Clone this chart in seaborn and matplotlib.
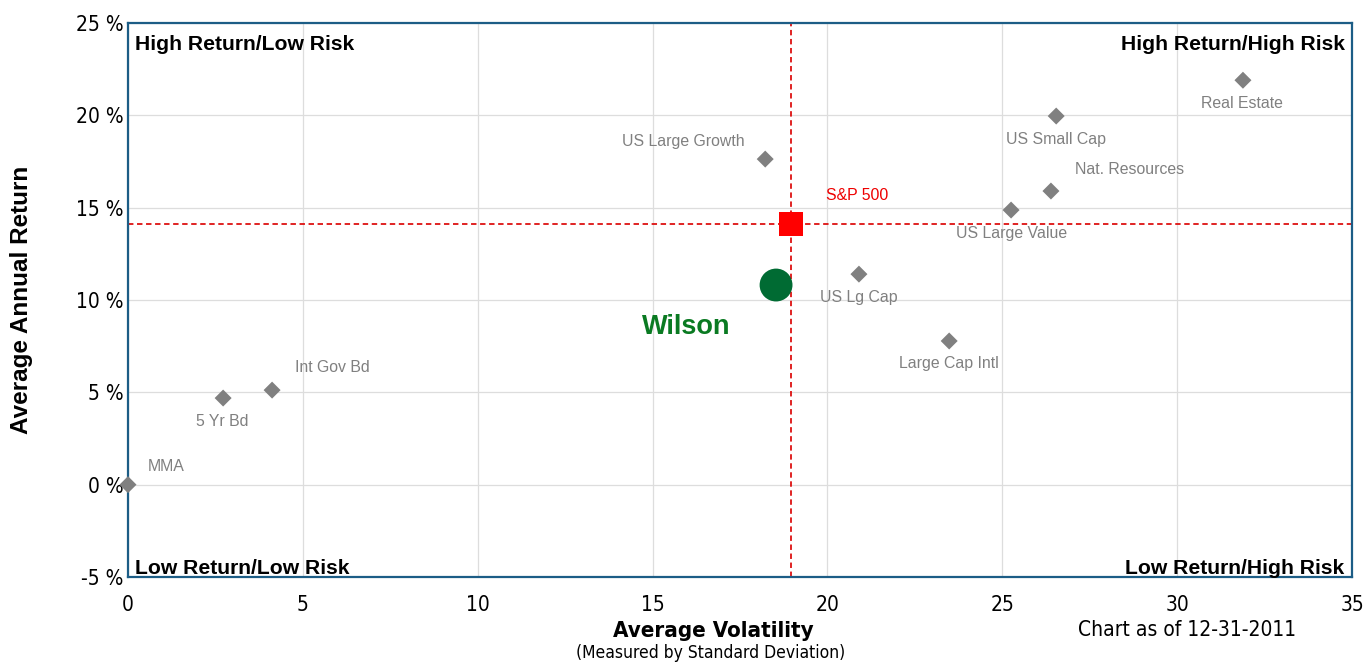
import matplotlib
matplotlib.use('Agg')
import matplotlib.pyplot as plt
import seaborn as sns
import pandas as pd

# dados
ativos = ['MMA', '5 Yr Bd', 'Int Gov Bd', 'US Large Growth', 'US Lg Cap', 'Large Cap Intl',
          'US Large Value', 'Nat. Resources', 'US Small Cap', 'Real Estate']
volatilidade = [0.0, 2.72, 4.12, 18.22, 20.9, 23.48, 25.25, 26.39, 26.54, 31.88]
retorno = [0.0, 4.69, 5.12, 17.63, 11.4, 7.78, 14.87, 15.9, 19.96, 21.9]
# deslocamento dos rotulos (pixels)
dx = [38, -1, 60, -82, 0, 0, 0, 79, 0, -1]
dy = [18, -23, 23, 18, -23, -23, -23, 22, -23, -23]

sp_vol, sp_ret = [18.96], [14.11]
wilson_vol, wilson_ret = [18.53], [10.81]

x_ticks = [0, 5, 10, 15, 20, 25, 30, 35]
y_ticks = [-5, 0, 5, 10, 15, 20, 25]

df = pd.DataFrame({'ativo': ativos, 'vol': volatilidade, 'ret': retorno})

sns.set_style('white')
narrow = ['DejaVu Sans']
plt.rcParams['font.family'] = ['Liberation Sans', 'DejaVu Sans']
plt.rcParams['text.color'] = 'black'
plt.rcParams['xtick.color'] = 'black'
plt.rcParams['ytick.color'] = 'black'

fig = plt.figure(figsize=(13.66, 6.62), dpi=100)
ax = fig.add_axes([0.0937, 0.1284, 0.8961, 0.8369])

ax.set_xlim(0, 35)
ax.set_ylim(-5, 25)
ax.set_xticks(x_ticks)
ax.set_yticks(y_ticks)
ax.set_xticklabels([str(t) for t in x_ticks], family=narrow, fontstretch='condensed', fontsize=15)
ax.set_yticklabels([f'{t} %' for t in y_ticks], family=narrow, fontstretch='condensed', fontsize=15)
ax.tick_params(axis='x', length=0, pad=13, labelcolor='black')
ax.tick_params(axis='y', length=0, pad=3, labelcolor='black')
ax.grid(True, color='#dddddd', linewidth=0.9)
ax.set_axisbelow(True)
for s in ax.spines.values():
    s.set_color('#1c5d86')
    s.set_linewidth(1.6)

# linhas do S&P 500
ax.axvline(sp_vol[0], color='#dd1111', linestyle=(0, (3, 2)), linewidth=1.3)
ax.axhline(sp_ret[0], color='#dd1111', linestyle=(0, (3, 2)), linewidth=1.3)

sns.scatterplot(data=df, x='vol', y='ret', marker='D', color='#808080', s=75,
                edgecolor='none', ax=ax, clip_on=False, zorder=3)
sns.scatterplot(x=sp_vol, y=sp_ret, marker='s', color='#ff0000', s=300,
                edgecolor='none', ax=ax, zorder=4)
sns.scatterplot(x=wilson_vol, y=wilson_ret, marker='o', color='#006b33', s=560,
                edgecolor='none', ax=ax, zorder=4)

for nome, x, y, ox, oy in zip(ativos, volatilidade, retorno, dx, dy):
    ax.annotate(nome, (x, y), xytext=(ox * 0.72, oy * 0.72), textcoords='offset points',
                ha='center', va='center', fontsize=11.4, color='#808080')
ax.annotate('S&P 500', (sp_vol[0], sp_ret[0]), xytext=(66 * 0.72, 29 * 0.72),
            textcoords='offset points', ha='center', va='center', fontsize=11.4, color='#ee0000')
ax.annotate('Wilson', (wilson_vol[0], wilson_ret[0]), xytext=(-90 * 0.72, -42 * 0.72),
            textcoords='offset points', ha='center', va='center', fontsize=19.5,
            fontweight='bold', color='#0a7a22')

# quadrantes
kw = dict(transform=ax.transAxes, fontsize=15.2, fontweight='bold', color='black')
ax.text(0.006, 0.978, 'High Return/Low Risk', ha='left', va='top', **kw)
ax.text(0.994, 0.978, 'High Return/High Risk', ha='right', va='top', **kw)
ax.text(0.006, -0.001, 'Low Return/Low Risk', ha='left', va='bottom', **kw)
ax.text(0.994, -0.001, 'Low Return/High Risk', ha='right', va='bottom', **kw)

ax.set_xlabel('')
ax.set_ylabel('')
fig.text(22 / 1366, 1 - 300 / 662, 'Average Annual Return', rotation=90, ha='center', va='center',
         fontsize=17.5, fontweight='bold')
fig.text(713 / 1366, 1 - 631 / 662, 'Average Volatility', ha='center', va='center',
         fontsize=16, fontweight='bold', family=narrow, fontstretch='condensed')
fig.text(711 / 1366, 1 - 653 / 662, '(Measured by Standard Deviation)', ha='center', va='center',
         fontsize=12.5, family=narrow, fontstretch='condensed')
fig.text(1187 / 1366, 1 - 630 / 662, 'Chart as of 12-31-2011', ha='center', va='center',
         fontsize=15, family=narrow, fontstretch='condensed')

plt.savefig('out.png', dpi=100)
